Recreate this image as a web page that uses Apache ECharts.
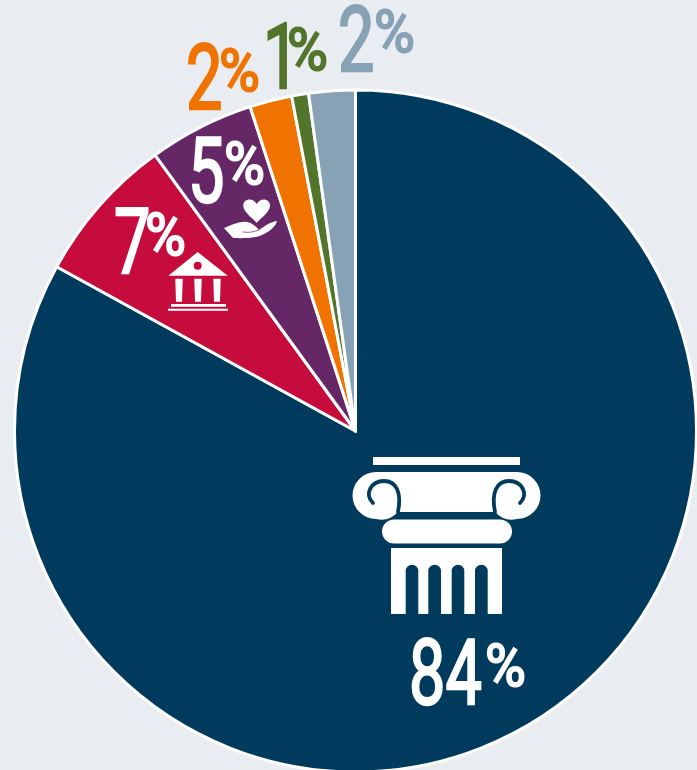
<!DOCTYPE html>
<html><head><meta charset="utf-8">
<style>html,body{margin:0;padding:0;background:#e9edf1}#c{width:697px;height:770px}</style>
<script src="https://cdn.jsdelivr.net/npm/echarts@6/dist/echarts.min.js"></script>
</head><body><div id="c"></div>
<script>
const categories = ['Column', 'Bank', 'Charity', 'Orange', 'Green', 'Grey'];
const values = [83, 7, 5, 2, 0.8, 2.2];
const labels = ['84', '7', '5', '2', '1', '2'];
const colors = ['#003a5d', '#c60c3c', '#662766', '#f07300', '#53752b', '#87a1b5'];

const FONT = 'Roboto,"Liberation Sans",sans-serif';
const WHITE = '#ffffff', BG = '#e9edf1';
// [digit left, digit bottom, percent left, percent bottom]
const labelPlaces = [
  [409, 706, 485, 682],
  [114, 275, 145, 251],
  [188, 204, 224, 180],
  [186, 111, 219, 87],
  [263, 90, 287, 66],
  [338, 73, 374, 48]
];
function txt(s, x, y, size, sx, color, lw) {
  return { type: 'text', x: x, y: y, scaleX: sx, z: 10, silent: true,
    style: { text: s, font: '400 ' + size + 'px ' + FONT, fill: color, stroke: color, lineWidth: lw,
      align: 'left', verticalAlign: 'middle' } };
}
const textEls = [];
labels.forEach(function (t, i) {
  const p = labelPlaces[i], c = (i < 3) ? WHITE : colors[i];
  textEls.push(txt(t, p[0], p[1] - 25, 90, 0.72, c, 2.4));
  textEls.push(txt('%', p[2], p[3] - 11, 60, 0.93, c, 2));
});
let shapeCount = 0;
function path(d, fill, stroke, lw) {
  const name = 'iconPiece' + (shapeCount++);
  echarts.graphic.registerShape(name, echarts.graphic.extendPath(d));
  return { type: name, z: 9, silent: true, shape: {},
    style: { fill: fill || 'none', stroke: stroke || 'none', lineWidth: lw || 0, lineCap: 'round' } };
}
const B = colors[0], R = colors[1], P = colors[2];
const iconEls = [
  // Column
  path('M373 457H520V465H373Z', WHITE),
  path('M376 472H517A23.5 23.5 0 0 1 517 519A23 23 0 0 1 495 512H398A23 23 0 0 1 376 519A23.5 23.5 0 0 1 376 472Z', WHITE),
  path('M373 503C364 494 371 481 384 481C396 481 402 492 398 512', 'none', B, 3.8),
  path('M520 503C529 494 522 481 509 481C497 481 491 492 495 512', 'none', B, 3.8),
  path('M394 519.5H500A12 12 0 0 1 500 543.5H394A12 12 0 0 1 394 519.5Z', WHITE),
  path('M391 548H502V614H487.7V571A6.3 6.3 0 0 0 475 571V614H464.3V571A6.3 6.3 0 0 0 451.7 571V614H441V571A6.3 6.3 0 0 0 428.3 571V614H418.3V571A6.3 6.3 0 0 0 405.7 571V614H391Z', WHITE),
  // Bank
  path('M197.7 252L227.7 275.7H168.3Z', WHITE),
  { type: 'circle', z: 10, silent: true, shape: { cx: 197.7, cy: 265.7, r: 4 }, style: { fill: R } },
  path('M175.3 278.7H182.7L182 301.7H176Z', WHITE),
  path('M194.3 278.7H201.7L201 301.7H195Z', WHITE),
  path('M213.3 278.7H220.7L220 301.7H214Z', WHITE),
  path('M171 304H226V306.7H171Z', WHITE),
  path('M168 308.7H228V310.7H168Z', WHITE),
  // Heart and hand
  path('M256.7 222.7C250 216 243.3 211.5 243.3 205.5C243.3 199 252.5 197 256.7 204C261 197 270 199 270 205.5C270 211.5 263.4 216 256.7 222.7Z', WHITE),
  path('M224 228C232 225 240 221 247 222C252 223 256 226 259 230C264 227 269 222 277 221C276 226 270 231 264 234C258 238 245 238.5 233 238Z', WHITE),
  path('M243 232C248 233 254 232 259 230', 'none', P, 0.7)
];

const chart = echarts.init(document.getElementById('c'), null, { renderer: 'canvas' });
chart.setOption({
  backgroundColor: BG,
  animation: false,
  tooltip: { show: false },
  legend: { show: false },
  series: [{
    type: 'pie',
    center: [355.5, 431],
    radius: [0, 341],
    startAngle: 90,
    clockwise: true,
    silent: true,
    label: { show: false },
    labelLine: { show: false },
    itemStyle: { borderColor: WHITE, borderWidth: 3 },
    data: categories.map(function (n, i) {
      return { name: n, value: values[i], itemStyle: { color: colors[i] } };
    })
  }],
  graphic: { elements: iconEls.concat(textEls) }
});
</script></body></html>
